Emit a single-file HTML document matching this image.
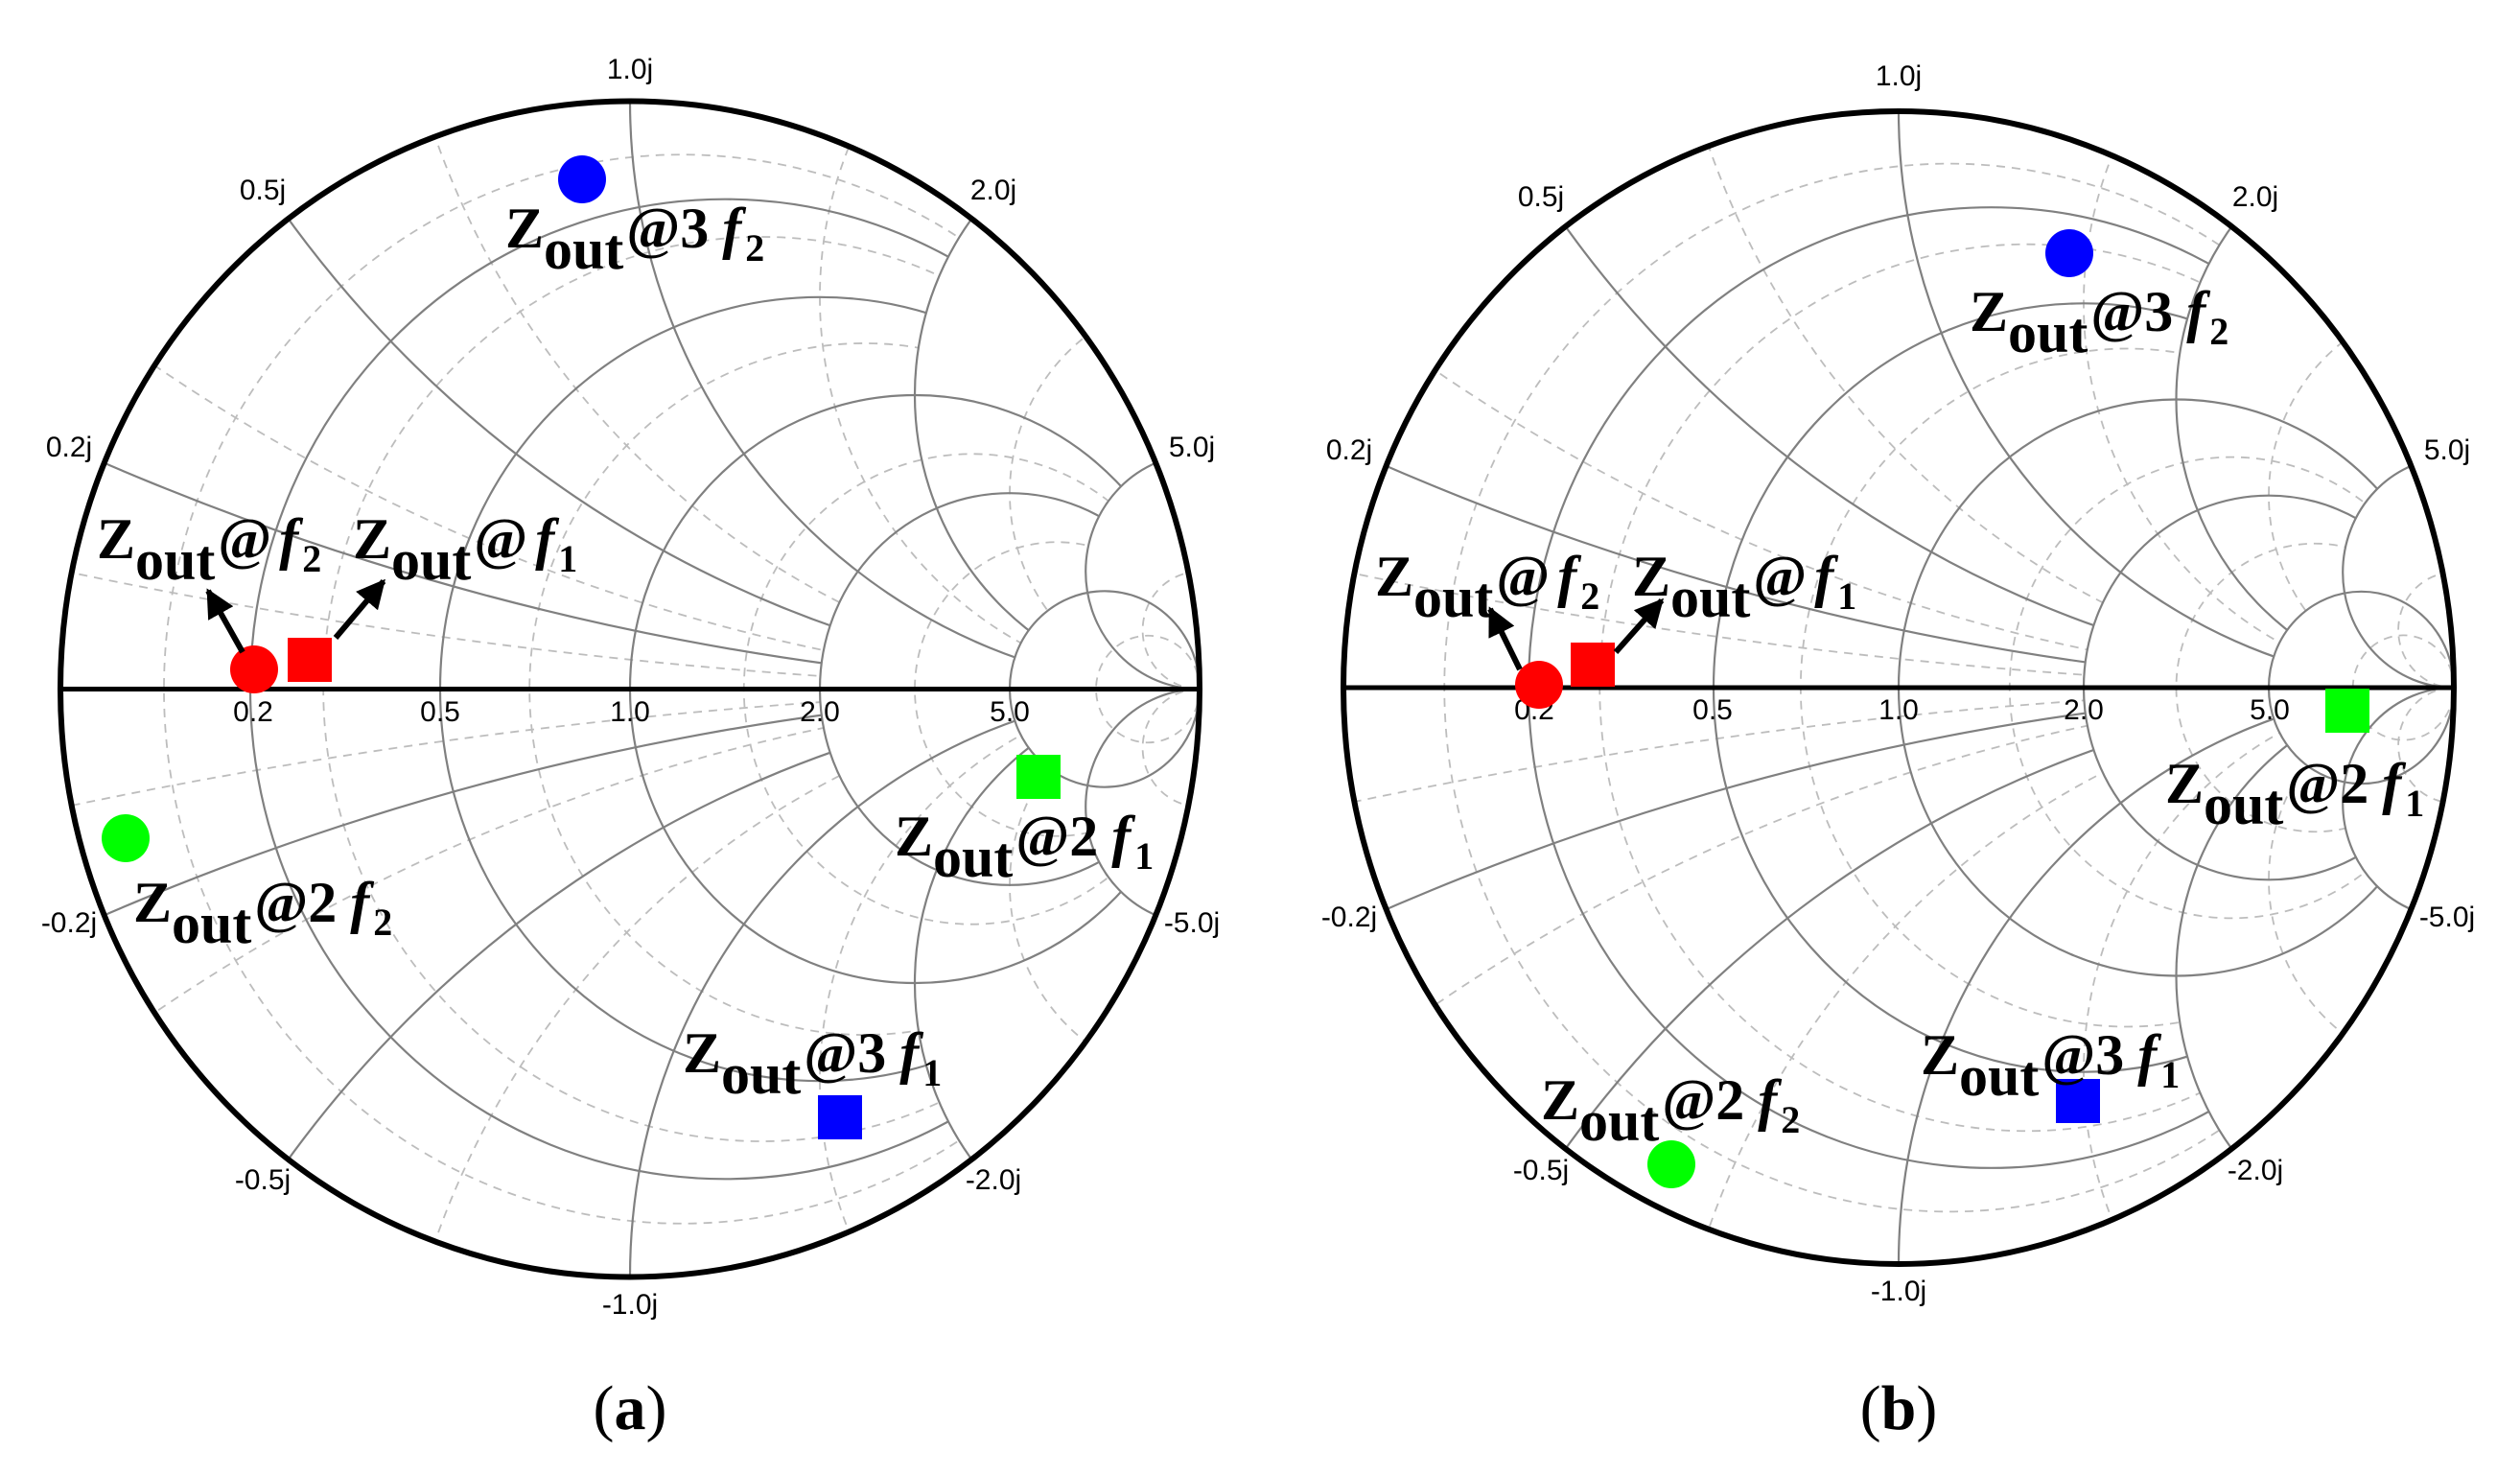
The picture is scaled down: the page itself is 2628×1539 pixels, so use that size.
<!DOCTYPE html>
<html><head><meta charset="utf-8"><style>
html,body{margin:0;padding:0;background:#fff;overflow:hidden;width:2628px;height:1539px;}
svg{display:block;}
.lab{font-family:"Liberation Sans",sans-serif;font-size:30px;fill:#000;text-anchor:middle;dominant-baseline:middle;}
.z{font-family:"Liberation Serif",serif;font-weight:bold;font-size:60px;fill:#000;}
.cap{font-family:"Liberation Serif",serif;font-size:66px;fill:#000;text-anchor:middle;dominant-baseline:middle;}
.s{fill:none;stroke:#808080;stroke-width:2.2;vector-effect:non-scaling-stroke;}
.d{fill:none;stroke:#bdbdbd;stroke-width:1.8;stroke-dasharray:9 7;vector-effect:non-scaling-stroke;}
</style></head><body>
<svg width="2628" height="1539" viewBox="0 0 2628 1539" xmlns="http://www.w3.org/2000/svg">
<defs>
<clipPath id="cu" clipPathUnits="userSpaceOnUse"><circle cx="0" cy="0" r="1"/></clipPath>
<clipPath id="cx2" clipPathUnits="userSpaceOnUse"><path clip-rule="evenodd" d="M-3,-3H3V3H-3Z M0.5,0.5a0.5,0.5 0 1 0 1,0a0.5,0.5 0 1 0 -1,0Z M0.5,-0.5a0.5,0.5 0 1 0 1,0a0.5,0.5 0 1 0 -1,0Z"/></clipPath>
<clipPath id="cx5" clipPathUnits="userSpaceOnUse"><path clip-rule="evenodd" d="M-3,-3H3V3H-3Z M0.8,0.2a0.2,0.2 0 1 0 0.4,0a0.2,0.2 0 1 0 -0.4,0Z M0.8,-0.2a0.2,0.2 0 1 0 0.4,0a0.2,0.2 0 1 0 -0.4,0Z"/></clipPath>
<clipPath id="cr2" clipPathUnits="userSpaceOnUse"><path clip-rule="evenodd" d="M-3,-3H3V3H-3Z M0.33333,0a0.33333,0.33333 0 1 0 0.66667,0a0.33333,0.33333 0 1 0 -0.66667,0Z"/></clipPath>
<clipPath id="cr5" clipPathUnits="userSpaceOnUse"><path clip-rule="evenodd" d="M-3,-3H3V3H-3Z M0.66667,0a0.16667,0.16667 0 1 0 0.33333,0a0.16667,0.16667 0 1 0 -0.33333,0Z"/></clipPath>
<g id="grid">
 <g clip-path="url(#cu)">
  <g clip-path="url(#cx2)">
   <circle class="d" cx="0.0909" cy="0" r="0.9091"/>
   <circle class="d" cx="0.2308" cy="0" r="0.7692"/>
   <circle class="d" cx="0.4118" cy="0" r="0.5882"/>
  </g>
  <g clip-path="url(#cx5)">
   <circle class="d" cx="0.6" cy="0" r="0.4"/>
   <circle class="d" cx="0.75" cy="0" r="0.25"/>
  </g>
  <circle class="d" cx="0.9091" cy="0" r="0.0909"/>
  <g clip-path="url(#cr2)">
   <circle class="d" cx="1" cy="10" r="10"/><circle class="d" cx="1" cy="-10" r="10"/>
   <circle class="d" cx="1" cy="3.333" r="3.333"/><circle class="d" cx="1" cy="-3.333" r="3.333"/>
   <circle class="d" cx="1" cy="1.4286" r="1.4286"/><circle class="d" cx="1" cy="-1.4286" r="1.4286"/>
  </g>
  <g clip-path="url(#cr5)">
   <circle class="d" cx="1" cy="0.6667" r="0.6667"/><circle class="d" cx="1" cy="-0.6667" r="0.6667"/>
   <circle class="d" cx="1" cy="0.3333" r="0.3333"/><circle class="d" cx="1" cy="-0.3333" r="0.3333"/>
  </g>
  <circle class="d" cx="1" cy="0.1" r="0.1"/><circle class="d" cx="1" cy="-0.1" r="0.1"/>
  <g clip-path="url(#cx2)">
   <circle class="s" cx="0.16667" cy="0" r="0.83333"/>
   <circle class="s" cx="0.33333" cy="0" r="0.66667"/>
  </g>
  <g clip-path="url(#cx5)">
   <circle class="s" cx="0.5" cy="0" r="0.5"/>
   <circle class="s" cx="0.66667" cy="0" r="0.33333"/>
  </g>
  <circle class="s" cx="0.83333" cy="0" r="0.16667"/>
  <g clip-path="url(#cr2)">
   <circle class="s" cx="1" cy="5" r="5"/><circle class="s" cx="1" cy="-5" r="5"/>
   <circle class="s" cx="1" cy="2" r="2"/><circle class="s" cx="1" cy="-2" r="2"/>
  </g>
  <g clip-path="url(#cr5)">
   <circle class="s" cx="1" cy="1" r="1"/><circle class="s" cx="1" cy="-1" r="1"/>
   <circle class="s" cx="1" cy="0.5" r="0.5"/><circle class="s" cx="1" cy="-0.5" r="0.5"/>
  </g>
  <circle class="s" cx="1" cy="0.2" r="0.2"/><circle class="s" cx="1" cy="-0.2" r="0.2"/>
 </g>
 <line x1="-1" y1="0" x2="1" y2="0" stroke="#000" stroke-width="5" vector-effect="non-scaling-stroke"/>
 <circle cx="0" cy="0" r="1" fill="none" stroke="#000" stroke-width="6" vector-effect="non-scaling-stroke"/>
</g>
<marker id="ah" viewBox="0 0 10 10" refX="9" refY="5" markerWidth="5" markerHeight="5" orient="auto" markerUnits="strokeWidth"><path d="M0,0L10,5L0,10Z" fill="#000"/></marker>
</defs>

<use href="#grid" transform="translate(657,718.5) scale(594,-613)"/>
<use href="#grid" transform="translate(1980,717) scale(579,-601)"/>

<text class="lab" x="657" y="74">1.0j</text>
<text class="lab" x="274" y="200">0.5j</text>
<text class="lab" x="1036" y="200">2.0j</text>
<text class="lab" x="72" y="468">0.2j</text>
<text class="lab" x="1243" y="468">5.0j</text>
<text class="lab" x="72" y="964">-0.2j</text>
<text class="lab" x="1243" y="964">-5.0j</text>
<text class="lab" x="274" y="1232">-0.5j</text>
<text class="lab" x="1036" y="1232">-2.0j</text>
<text class="lab" x="657" y="1362">-1.0j</text>
<text class="lab" x="264" y="744">0.2</text>
<text class="lab" x="459" y="744">0.5</text>
<text class="lab" x="657" y="744">1.0</text>
<text class="lab" x="855" y="744">2.0</text>
<text class="lab" x="1053" y="744">5.0</text>

<text class="lab" x="1980" y="81">1.0j</text>
<text class="lab" x="1607" y="207">0.5j</text>
<text class="lab" x="2352" y="207">2.0j</text>
<text class="lab" x="1407" y="471">0.2j</text>
<text class="lab" x="2552" y="471">5.0j</text>
<text class="lab" x="1407" y="958">-0.2j</text>
<text class="lab" x="2552" y="958">-5.0j</text>
<text class="lab" x="1607" y="1222">-0.5j</text>
<text class="lab" x="2352" y="1222">-2.0j</text>
<text class="lab" x="1980" y="1348">-1.0j</text>
<text class="lab" x="1600" y="742">0.2</text>
<text class="lab" x="1786" y="742">0.5</text>
<text class="lab" x="1980" y="742">1.0</text>
<text class="lab" x="2173" y="742">2.0</text>
<text class="lab" x="2367" y="742">5.0</text>

<text class="cap" x="657" y="1475">(<tspan font-weight="bold">a</tspan>)</text>
<text class="cap" x="1980" y="1475">(<tspan font-weight="bold">b</tspan>)</text>

<circle cx="607" cy="187" r="25" fill="#0000ff"/>
<circle cx="265" cy="698" r="25" fill="#ff0000"/>
<rect x="300" y="665" width="46" height="46" fill="#ff0000"/>
<circle cx="131" cy="874" r="25" fill="#00ff00"/>
<rect x="1060" y="787" width="46" height="46" fill="#00ff00"/>
<rect x="853" y="1142" width="46" height="46" fill="#0000ff"/>
<line x1="253" y1="680" x2="217" y2="616" stroke="#000" stroke-width="6" marker-end="url(#ah)"/>
<line x1="350" y1="665" x2="400" y2="606" stroke="#000" stroke-width="6" marker-end="url(#ah)"/>

<circle cx="2158" cy="264" r="25" fill="#0000ff"/>
<circle cx="1605" cy="714" r="25" fill="#ff0000"/>
<rect x="1638" y="670" width="46" height="46" fill="#ff0000"/>
<rect x="2425" y="718" width="46" height="46" fill="#00ff00"/>
<rect x="2144" y="1125" width="46" height="46" fill="#0000ff"/>
<circle cx="1743" cy="1214" r="25" fill="#00ff00"/>
<line x1="1585" y1="698" x2="1554" y2="635" stroke="#000" stroke-width="6" marker-end="url(#ah)"/>
<line x1="1685" y1="680" x2="1733" y2="626" stroke="#000" stroke-width="6" marker-end="url(#ah)"/>

<text class="z" x="527" y="258">Z<tspan dy="22">out</tspan><tspan dy="-22" dx="3">@3</tspan><tspan dx="14" font-style="italic">f</tspan><tspan dy="14" font-size="40" dx="4">2</tspan></text>
<text class="z" x="101" y="582">Z<tspan dy="22">out</tspan><tspan dy="-22" dx="3">@</tspan><tspan dx="8" font-style="italic">f</tspan><tspan dy="14" font-size="40" dx="4">2</tspan></text>
<text class="z" x="368" y="582">Z<tspan dy="22">out</tspan><tspan dy="-22" dx="3">@</tspan><tspan dx="8" font-style="italic">f</tspan><tspan dy="14" font-size="40" dx="4">1</tspan></text>
<text class="z" x="139" y="961">Z<tspan dy="22">out</tspan><tspan dy="-22" dx="3">@2</tspan><tspan dx="14" font-style="italic">f</tspan><tspan dy="14" font-size="40" dx="4">2</tspan></text>
<text class="z" x="933" y="892">Z<tspan dy="22">out</tspan><tspan dy="-22" dx="3">@2</tspan><tspan dx="14" font-style="italic">f</tspan><tspan dy="14" font-size="40" dx="4">1</tspan></text>
<text class="z" x="712" y="1118">Z<tspan dy="22">out</tspan><tspan dy="-22" dx="3">@3</tspan><tspan dx="14" font-style="italic">f</tspan><tspan dy="14" font-size="40" dx="4">1</tspan></text>

<text class="z" x="2054" y="345">Z<tspan dy="22">out</tspan><tspan dy="-22" dx="3">@3</tspan><tspan dx="14" font-style="italic">f</tspan><tspan dy="14" font-size="40" dx="4">2</tspan></text>
<text class="z" x="1434" y="621">Z<tspan dy="22">out</tspan><tspan dy="-22" dx="3">@</tspan><tspan dx="8" font-style="italic">f</tspan><tspan dy="14" font-size="40" dx="4">2</tspan></text>
<text class="z" x="1702" y="621">Z<tspan dy="22">out</tspan><tspan dy="-22" dx="3">@</tspan><tspan dx="8" font-style="italic">f</tspan><tspan dy="14" font-size="40" dx="4">1</tspan></text>
<text class="z" x="2258" y="837">Z<tspan dy="22">out</tspan><tspan dy="-22" dx="3">@2</tspan><tspan dx="14" font-style="italic">f</tspan><tspan dy="14" font-size="40" dx="4">1</tspan></text>
<text class="z" x="2003" y="1120">Z<tspan dy="22">out</tspan><tspan dy="-22" dx="3">@3</tspan><tspan dx="14" font-style="italic">f</tspan><tspan dy="14" font-size="40" dx="4">1</tspan></text>
<text class="z" x="1607" y="1167">Z<tspan dy="22">out</tspan><tspan dy="-22" dx="3">@2</tspan><tspan dx="14" font-style="italic">f</tspan><tspan dy="14" font-size="40" dx="4">2</tspan></text>
</svg>
</body></html>
